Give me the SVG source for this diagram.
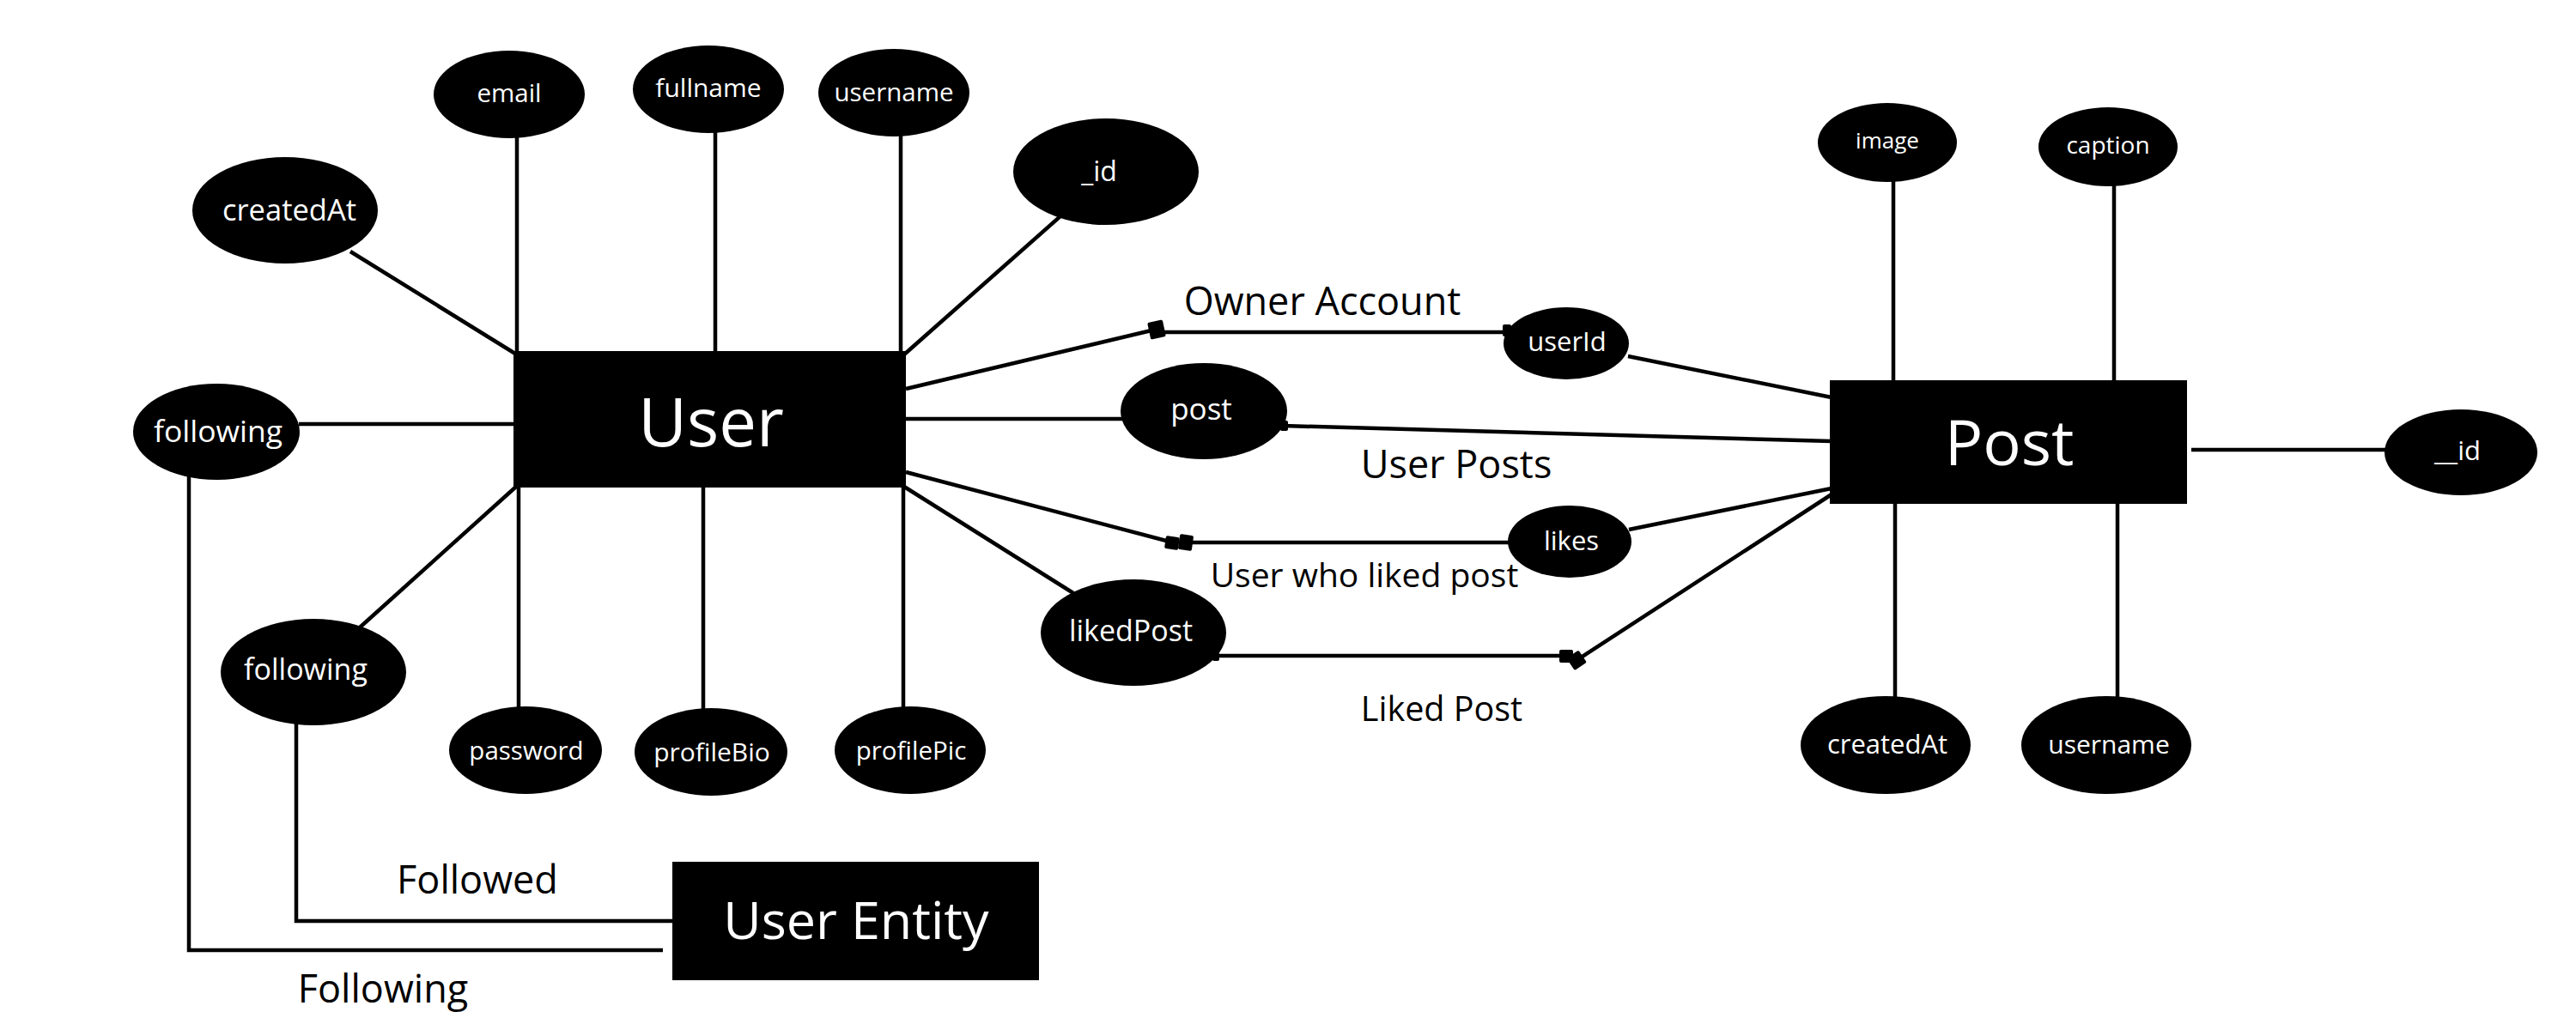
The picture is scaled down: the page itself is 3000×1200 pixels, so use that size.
<svg xmlns="http://www.w3.org/2000/svg" width="3000" height="1200" viewBox="0 0 3000 1200">
<style>
  .ln { stroke:#000; stroke-width:4.5; fill:none; }
  .att { fill:#000; }
  .ent { fill:#000; }
  .t { font-family:"Open Sans","Noto Sans","Liberation Sans",sans-serif; fill:#fff; text-anchor:middle; }
  .lbl { font-family:"Open Sans","Noto Sans","Liberation Sans",sans-serif; fill:#000; text-anchor:middle; }
  .cap { fill:#000; }
</style>
<rect width="3000" height="1200" fill="#fff"/>

<g id="connectors">
  <!-- User attributes -->
  <line class="ln" x1="408" y1="293" x2="600" y2="412"/>
  <line class="ln" x1="602" y1="158" x2="602" y2="410"/>
  <line class="ln" x1="833" y1="152" x2="833" y2="410"/>
  <line class="ln" x1="1049" y1="156" x2="1049" y2="410"/>
  <line class="ln" x1="1053" y1="413" x2="1236" y2="251"/>
  <line class="ln" x1="348" y1="494" x2="599" y2="494"/>
  <line class="ln" x1="419" y1="731" x2="601" y2="567"/>
  <line class="ln" x1="604" y1="567" x2="604" y2="825"/>
  <line class="ln" x1="819" y1="567" x2="819" y2="828"/>
  <line class="ln" x1="1052" y1="567" x2="1052" y2="825"/>
  <line class="ln" x1="1054" y1="488" x2="1307" y2="488"/>
  <line class="ln" x1="1053" y1="567" x2="1250" y2="691"/>
  <!-- Owner Account -->
  <line class="ln" x1="1055" y1="453" x2="1345" y2="384"/>
  <line class="ln" x1="1352" y1="387" x2="1756" y2="387"/>
  <rect class="cap" x="1338" y="374" width="18" height="20" rx="2" transform="rotate(-12 1347 384)"/>
  <rect class="cap" x="1750" y="378" width="10" height="14" rx="2"/>
  <line class="ln" x1="1896" y1="415" x2="2133" y2="463"/>
  <!-- User Posts -->
  <line class="ln" x1="1494" y1="496" x2="2133" y2="514"/>
  <rect class="cap" x="1491" y="490" width="9" height="12" rx="2"/>
  <!-- User who liked post -->
  <line class="ln" x1="1055" y1="550" x2="1362" y2="631"/>
  <line class="ln" x1="1380" y1="632" x2="1758" y2="632"/>
  <rect class="cap" x="1357" y="625" width="16" height="15" rx="2" transform="rotate(8 1365 632)"/>
  <rect class="cap" x="1373" y="623" width="16" height="18" rx="2" transform="rotate(8 1381 632)"/>
  <line class="ln" x1="1897" y1="617" x2="2133" y2="569"/>
  <!-- Liked Post -->
  <line class="ln" x1="1414" y1="764" x2="1824" y2="764"/>
  <rect class="cap" x="1412" y="760" width="8" height="10" rx="2"/>
  <rect class="cap" x="1816" y="757" width="16" height="15" rx="2"/>
  <rect class="cap" x="1828" y="761" width="17" height="17" rx="2" transform="rotate(-34 1836 770)"/>
  <line class="ln" x1="1838" y1="768" x2="2133" y2="576"/>
  <!-- Post attributes -->
  <line class="ln" x1="2205" y1="210" x2="2205" y2="444"/>
  <line class="ln" x1="2462" y1="215" x2="2462" y2="444"/>
  <line class="ln" x1="2207" y1="586" x2="2207" y2="814"/>
  <line class="ln" x1="2466" y1="586" x2="2466" y2="814"/>
  <line class="ln" x1="2552" y1="524" x2="2779" y2="524"/>
  <!-- following relations -->
  <polyline class="ln" points="220,553 220,1107 772,1107"/>
  <polyline class="ln" points="345,843 345,1073 784,1073"/>
</g>

<g id="User">
  <rect class="ent" x="598" y="409" width="457" height="159"/>
  <text class="t" x="828" y="520" font-size="78">User</text>
</g>
<g id="Post">
  <rect class="ent" x="2131" y="443" width="416" height="144"/>
  <text class="t" x="2340" y="542" font-size="74">Post</text>
</g>
<g id="UserEntity">
  <rect class="ent" x="783" y="1004" width="427" height="138"/>
  <text class="t" x="997" y="1094" font-size="61">User Entity</text>
</g>

<g id="user-email"><ellipse class="att" cx="593" cy="110" rx="88" ry="51"/><text class="t" x="593" y="119" font-size="29.5">email</text></g>
<g id="user-fullname"><ellipse class="att" cx="825" cy="104" rx="88" ry="51"/><text class="t" x="825" y="113" font-size="30">fullname</text></g>
<g id="user-username"><ellipse class="att" cx="1041" cy="108" rx="88" ry="51"/><text class="t" x="1041" y="118" font-size="29.5">username</text></g>
<g id="user-createdAt"><ellipse class="att" cx="332" cy="245" rx="108" ry="62"/><text class="t" x="337" y="257" font-size="34.5">createdAt</text></g>
<g id="user-id"><ellipse class="att" cx="1288" cy="200" rx="108" ry="62"/><text class="t" x="1280" y="211" font-size="32">_id</text></g>
<g id="user-following"><ellipse class="att" cx="252" cy="503" rx="97" ry="56"/><text class="t" x="254" y="515" font-size="35.5">following</text></g>
<g id="user-following2"><ellipse class="att" cx="365" cy="783" rx="108" ry="62"/><text class="t" x="356" y="792" font-size="34">following</text></g>
<g id="user-password"><ellipse class="att" cx="612" cy="874" rx="89" ry="51"/><text class="t" x="613" y="885" font-size="29.5">password</text></g>
<g id="user-profileBio"><ellipse class="att" cx="828" cy="876" rx="89" ry="51"/><text class="t" x="829" y="887" font-size="30">profileBio</text></g>
<g id="user-profilePic"><ellipse class="att" cx="1060" cy="874" rx="88" ry="51"/><text class="t" x="1061" y="885" font-size="29.5">profilePic</text></g>
<g id="user-post"><ellipse class="att" cx="1402" cy="479" rx="97" ry="56"/><text class="t" x="1399" y="489" font-size="35">post</text></g>
<g id="user-likedPost"><ellipse class="att" cx="1320" cy="737" rx="108" ry="62"/><text class="t" x="1317" y="747" font-size="34">likedPost</text></g>

<g id="post-userId"><ellipse class="att" cx="1824" cy="400" rx="73" ry="42"/><text class="t" x="1825" y="409" font-size="31">userId</text></g>
<g id="post-likes"><ellipse class="att" cx="1828" cy="631" rx="72" ry="42"/><text class="t" x="1830" y="641" font-size="31">likes</text></g>
<g id="post-image"><ellipse class="att" cx="2198" cy="166" rx="81" ry="46"/><text class="t" x="2198" y="173" font-size="26">image</text></g>
<g id="post-caption"><ellipse class="att" cx="2455" cy="171" rx="81" ry="46"/><text class="t" x="2455" y="179" font-size="28">caption</text></g>
<g id="post-id"><ellipse class="att" cx="2866" cy="527" rx="89" ry="50"/><text class="t" x="2862" y="536" font-size="31">__id</text></g>
<g id="post-createdAt"><ellipse class="att" cx="2196" cy="868" rx="99" ry="57"/><text class="t" x="2198" y="878" font-size="31">createdAt</text></g>
<g id="post-username"><ellipse class="att" cx="2453" cy="868" rx="99" ry="57"/><text class="t" x="2456" y="878" font-size="30">username</text></g>

<g id="labels">
  <text class="lbl" x="1540" y="367" font-size="45">Owner Account</text>
  <text class="lbl" x="1696" y="557" font-size="45">User Posts</text>
  <text class="lbl" x="1589" y="684" font-size="39">User who liked post</text>
  <text class="lbl" x="1679" y="840" font-size="39.5">Liked Post</text>
  <text class="lbl" x="556" y="1041" font-size="45">Followed</text>
  <text class="lbl" x="446" y="1168" font-size="45">Following</text>
</g>
</svg>
